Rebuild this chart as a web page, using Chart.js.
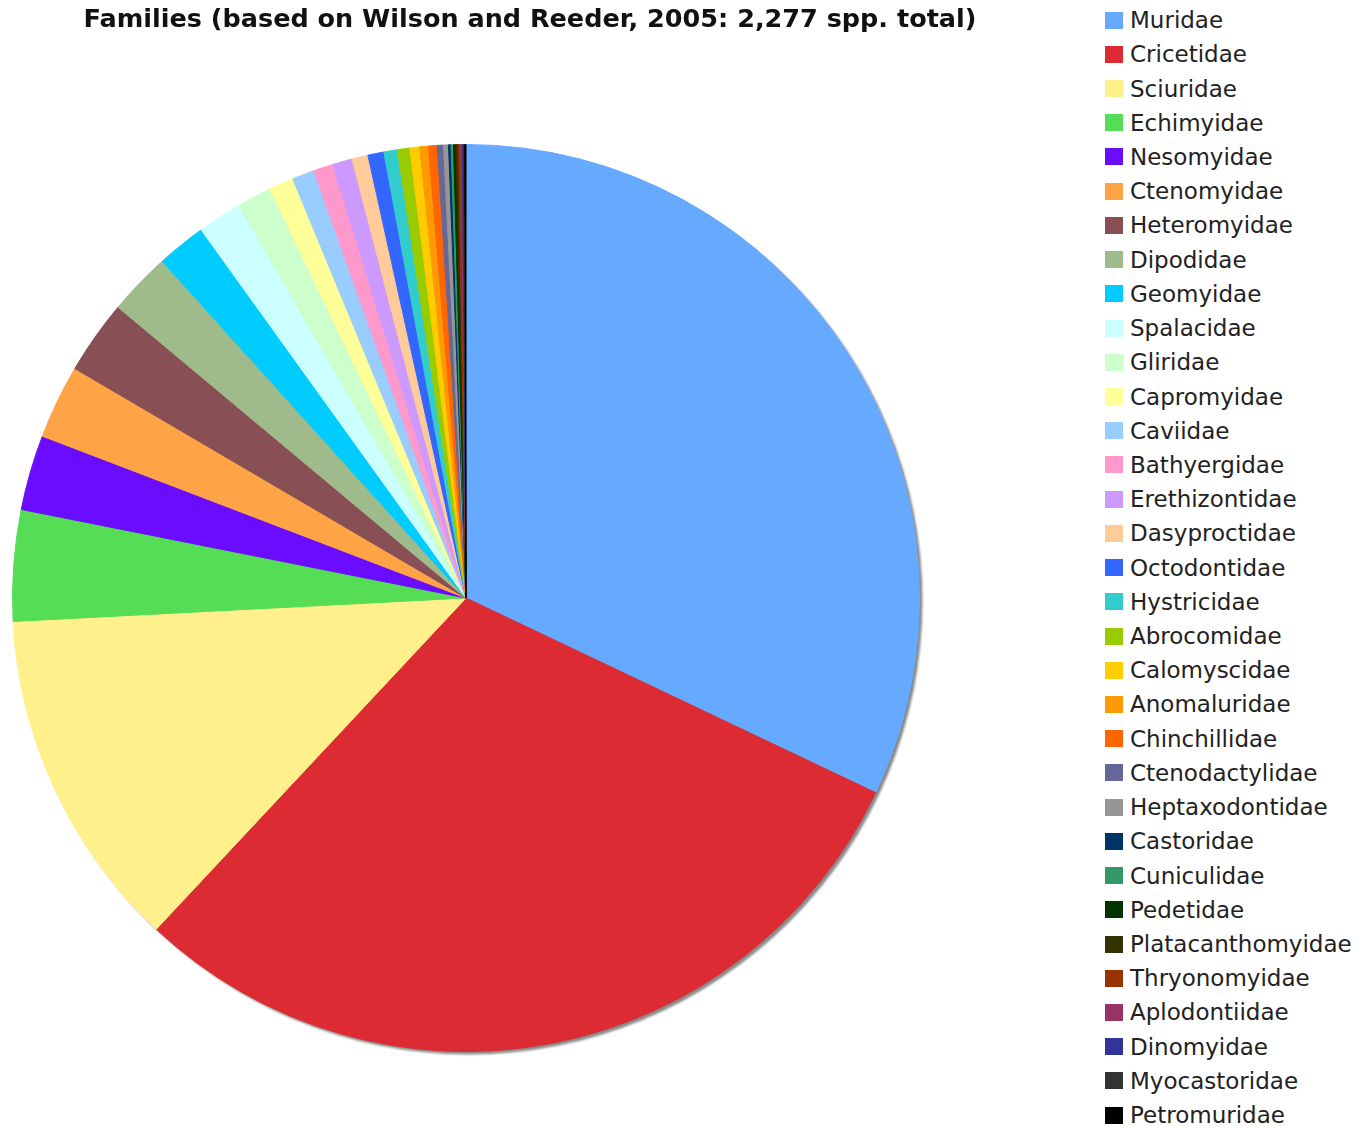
<!DOCTYPE html>
<html>
<head>
<meta charset="utf-8">
<title>Rodent families</title>
<script src="https://cdn.jsdelivr.net/npm/chart.js@4.4.1/dist/chart.umd.min.js"></script>
<style>
  body { margin: 0; background: #fff; }
  .page { position: relative; width: 1357px; height: 1128px; overflow: hidden; }
  .chart-wrapper { position: absolute; left: 0; top: 0; width: 1060px; height: 1128px; }
  .chart-title { position: absolute; left: 0; top: 0; width: 1060px; text-align: center;
    font: bold 25.5px/36px "DejaVu Sans", Verdana, sans-serif; color: #111; white-space: nowrap; }
  #legend { position: absolute; left: 1105px; top: 3px; margin: 0; padding: 0; list-style: none;
    font: 23px "DejaVu Sans", Verdana, sans-serif; color: #222; }
  #legend li { height: 34.22px; display: flex; align-items: center; white-space: nowrap; }
  #legend .swatch { width: 18px; height: 17px; margin-right: 7px; flex: none; }
</style>
</head>
<body>
<div class="page">
  <div class="chart-wrapper">
    <canvas id="chart-families" width="1060" height="1128"></canvas>
  </div>
  <div class="chart-title" id="chart-title"></div>
  <ul id="legend"></ul>
</div>

<script>
const titleText = "Families (based on Wilson and Reeder, 2005: 2,277 spp. total)"

const families = [
  "Muridae", "Cricetidae", "Sciuridae", "Echimyidae", "Nesomyidae", "Ctenomyidae",
  "Heteromyidae", "Dipodidae", "Geomyidae", "Spalacidae", "Gliridae", "Capromyidae",
  "Caviidae", "Bathyergidae", "Erethizontidae", "Dasyproctidae", "Octodontidae", "Hystricidae",
  "Abrocomidae", "Calomyscidae", "Anomaluridae", "Chinchillidae", "Ctenodactylidae", "Heptaxodontidae",
  "Castoridae", "Cuniculidae", "Pedetidae", "Platacanthomyidae", "Thryonomyidae", "Aplodontiidae",
  "Dinomyidae", "Myocastoridae", "Petromuridae"
]

// species per family
const species = [
  730, 681, 278, 90, 61, 60,
  60, 51, 40, 36, 28, 20,
  18, 16, 16, 13, 13, 11,
  10, 8, 7, 7, 5, 4,
  2, 2, 2, 2, 2, 1,
  1, 1, 1
]

const colors = [
  "#66aaff", "#dc2b32", "#fff08c", "#55dd55", "#6a0dff", "#ffa446",
  "#885055", "#9fbb8c", "#00ccff", "#ccffff", "#ccffcc", "#ffff99",
  "#99ccff", "#ff99cc", "#cc99ff", "#ffcc99", "#3366ff", "#33cccc",
  "#99cc00", "#ffcc00", "#ff9900", "#ff6600", "#666699", "#969696",
  "#003366", "#339966", "#003300", "#333300", "#993300", "#993366",
  "#333399", "#333333", "#000000"
]

document.getElementById("chart-title").textContent = titleText

// soft gray drop shadow under the pie
const pieShadow = {
  id: "pieShadow",
  beforeDatasetsDraw(chart) {
    const arc = chart.getDatasetMeta(0).data[0]
    if (!arc) return
    const { x, y, outerRadius } = arc.getProps(["x", "y", "outerRadius"], true)
    const ctx = chart.ctx
    ctx.save()
    ctx.filter = "blur(1px)"
    ctx.fillStyle = "#8a8a8a"
    ctx.beginPath()
    ctx.arc(x + 3, y + 3, outerRadius, 0, Math.PI * 2)
    ctx.fill()
    ctx.restore()
  }
}

// legend as a plain list next to the canvas
const htmlLegend = {
  id: "htmlLegend",
  afterUpdate(chart) {
    const list = document.getElementById("legend")
    list.innerHTML = ""
    const items = chart.options.plugins.legend.labels.generateLabels(chart)
    items.forEach(item => {
      const li = document.createElement("li")
      const box = document.createElement("span")
      box.className = "swatch"
      box.style.background = item.fillStyle
      li.appendChild(box)
      li.appendChild(document.createTextNode(item.text))
      list.appendChild(li)
    })
  }
}

new Chart(document.getElementById("chart-families"), {
  type: "pie",
  data: {
    labels: families,
    datasets: [{
      data: species,
      backgroundColor: colors,
      borderColor: colors,
      borderWidth: 1
    }]
  },
  options: {
    responsive: false,
    animation: false,
    layout: { padding: { left: 12, right: 140, top: 144, bottom: 76 } },
    plugins: {
      legend: { display: false },
      tooltip: { enabled: false },
      title: { display: false }
    }
  },
  plugins: [pieShadow, htmlLegend]
})
</script>
</body>
</html>
